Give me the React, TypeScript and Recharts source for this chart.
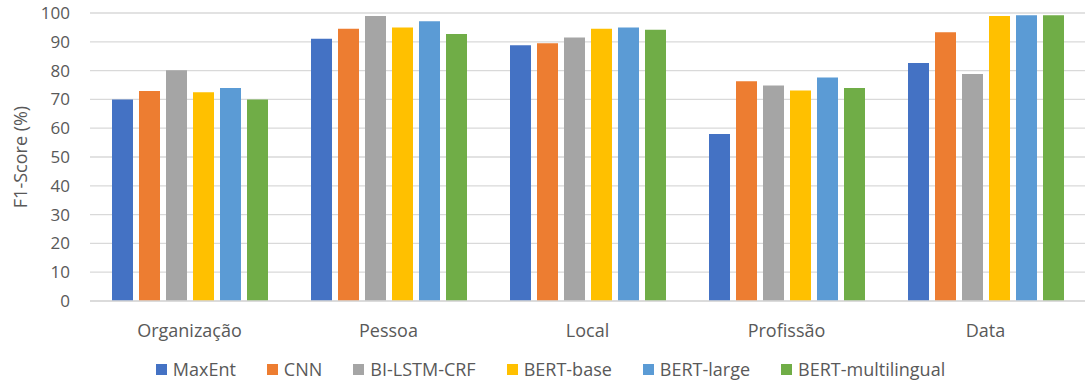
import { BarChart, Bar, XAxis, YAxis, CartesianGrid, Legend } from "recharts";

const categories = ["Organização", "Pessoa", "Local", "Profissão", "Data"];

const maxEnt = [70.0, 91.1, 88.8, 58.0, 82.6];
const cnn = [72.9, 94.5, 89.5, 76.3, 93.3];
const biLstmCrf = [80.1, 99.0, 91.5, 74.8, 78.8];
const bertBase = [72.5, 95.0, 94.5, 73.1, 99.0];
const bertLarge = [74.0, 97.1, 95.0, 77.6, 99.2];
const bertMulti = [70.0, 92.7, 94.2, 74.0, 99.2];

const yTicks = [0, 10, 20, 30, 40, 50, 60, 70, 80, 90, 100];

const series = [
  { key: "MaxEnt", values: maxEnt, color: "#4472c4" },
  { key: "CNN", values: cnn, color: "#ed7d31" },
  { key: "BI-LSTM-CRF", values: biLstmCrf, color: "#a5a5a5" },
  { key: "BERT-base", values: bertBase, color: "#ffc000" },
  { key: "BERT-large", values: bertLarge, color: "#5b9bd5" },
  { key: "BERT-multilingual", values: bertMulti, color: "#70ad47" },
];

const data = categories.map((cat, i) => {
  const row: Record<string, string | number> = { cat };
  series.forEach((s) => {
    row[s.key] = s.values[i];
  });
  return row;
});

const font = "'Open Sans', sans-serif";

// legend drawn by hand so spacing matches the office-style chart
const LegendContent = () => (
  <div
    style={{
      display: "flex",
      justifyContent: "center",
      gap: 31,
      fontFamily: font,
      fontSize: 18,
      lineHeight: "24px",
      color: "#595959",
      marginLeft: 16,
      marginTop: 12,
    }}
  >
    {series.map((s) => (
      <div key={s.key} style={{ display: "flex", alignItems: "center" }}>
        <span
          style={{
            width: 11,
            height: 11,
            background: s.color,
            display: "inline-block",
            marginRight: 6,
          }}
        />
        <span>{s.key}</span>
      </div>
    ))}
  </div>
);

export default function App() {
  return (
    <div style={{ position: "absolute", left: 0, top: 0, background: "#fff" }}>
      <BarChart
        width={1092}
        height={381}
        data={data}
        margin={{ top: 13, right: 7, left: 0, bottom: 0 }}
        barCategoryGap={22}
        barGap={6}
      >
        <CartesianGrid vertical={false} stroke="#d9d9d9" strokeWidth={1.3} />
        <XAxis
          dataKey="cat"
          axisLine={{ stroke: "#d9d9d9", strokeWidth: 1.3 }}
          tickLine={false}
          tick={{ fill: "#595959", fontSize: 18, fontFamily: font }}
          tickMargin={17}
          height={44}
        />
        <YAxis
          domain={[0, 100]}
          ticks={yTicks}
          interval={0}
          axisLine={false}
          tickLine={false}
          width={90}
          tickMargin={14}
          tick={{ fill: "#595959", fontSize: 17, fontFamily: font }}
          label={{
            value: "F1-Score (%)",
            angle: -90,
            position: "insideLeft",
            offset: 21,
            style: {
              fill: "#595959",
              fontSize: 18,
              fontFamily: font,
              textAnchor: "middle",
            },
          }}
        />
        <Legend
          verticalAlign="bottom"
          height={36}
          content={<LegendContent />}
        />
        {series.map((s) => (
          <Bar
            key={s.key}
            dataKey={s.key}
            fill={s.color}
            isAnimationActive={false}
          />
        ))}
      </BarChart>
    </div>
  );
}
